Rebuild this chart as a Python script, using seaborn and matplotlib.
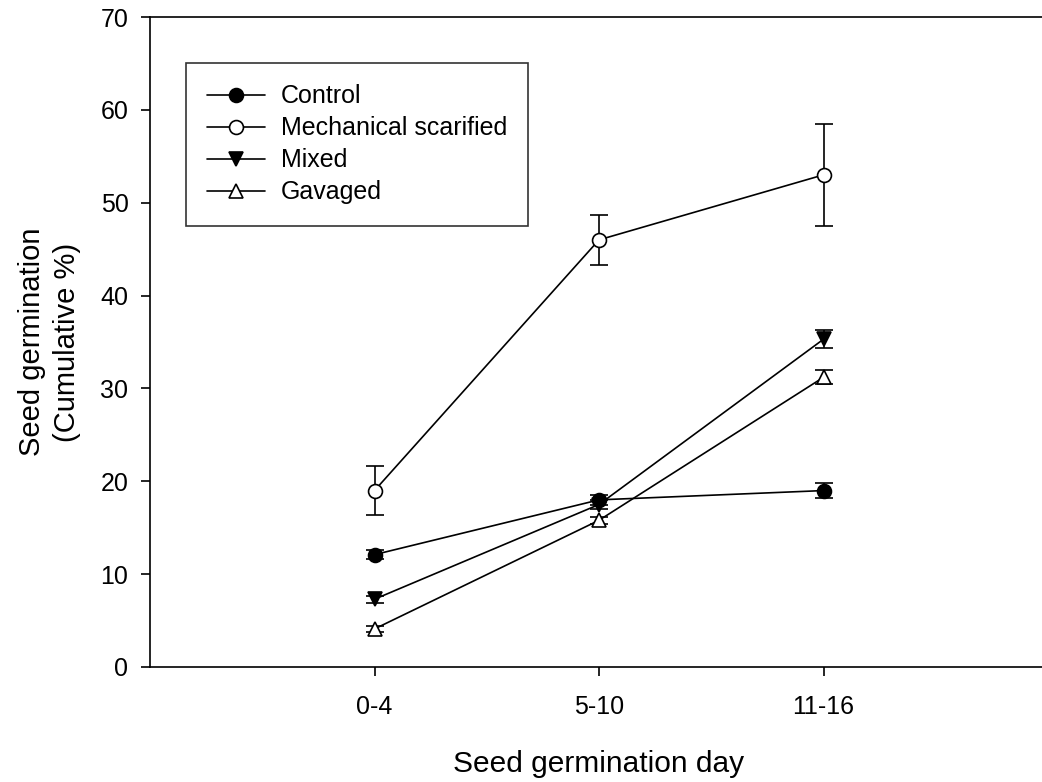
import matplotlib
matplotlib.use("Agg")
import matplotlib.pyplot as plt
import seaborn as sns
import pandas as pd

categories = ["0-4", "5-10", "11-16"]
series_names = ["Control", "Mechanical scarified", "Mixed", "Gavaged"]
control = [12.1, 18.0, 19.0]
control_err = [0.5, 0.5, 0.8]
mechanical = [19.0, 46.0, 53.0]
mechanical_err = [2.6, 2.7, 5.5]
mixed = [7.3, 17.5, 35.3]
mixed_err = [0.4, 0.5, 0.95]
gavaged = [4.1, 15.8, 31.2]
gavaged_err = [0.3, 0.4, 0.75]
yticks = [0, 10, 20, 30, 40, 50, 60, 70]

sns.set_theme(style="white")
plt.rcParams["font.family"] = ["Liberation Sans", "DejaVu Sans"]

fig = plt.figure(figsize=(10.42, 7.82), dpi=100)
ax = fig.add_axes([150/1042, 115/782, 898/1042, 650/782])

values = [control, mechanical, mixed, gavaged]
errs = [control_err, mechanical_err, mixed_err, gavaged_err]
markers = ["o", "o", "v", "^"]
faces = ["black", "white", "black", "white"]
xs = list(range(len(categories)))

for name, v, e, m, fc in zip(series_names, values, errs, markers, faces):
    df = pd.DataFrame({"x": xs, "y": v})
    ax.errorbar(xs, v, yerr=e, fmt="none", ecolor="black", elinewidth=1.2,
                capsize=6.5, capthick=1.2, zorder=2)
    sns.lineplot(data=df, x="x", y="y", ax=ax, color="black", linewidth=1.2,
                 marker=m, markersize=10, markerfacecolor=fc,
                 markeredgecolor="black", markeredgewidth=1.2,
                 label=name, zorder=3)

ax.set_xlim(-1, 3)
ax.set_ylim(0, 70)
ax.set_xticks(xs)
ax.set_xticklabels(categories)
ax.set_yticks(yticks)
ax.tick_params(axis="both", which="major", direction="out", length=6.5,
               width=1.2, color="black", labelsize=18, labelcolor="black",
               left=True, bottom=True)
ax.tick_params(axis="x", pad=14)
ax.tick_params(axis="y", pad=9)
for s in ["left", "bottom", "top", "right"]:
    ax.spines[s].set_color("black")
    ax.spines[s].set_linewidth(1.2)

ax.set_xlabel("Seed germination day", fontsize=21.5, color="black", labelpad=22)
ax.set_ylabel("Seed germination\n(Cumulative %)", fontsize=21, color="black",
              labelpad=14, linespacing=1.3)

leg = ax.legend(loc="upper left", bbox_to_anchor=(36/898, 1 - 46/650),
                frameon=True, fancybox=False, edgecolor="black",
                fontsize=18, handlelength=2.3, handletextpad=0.64,
                labelspacing=0.32, borderpad=0.85, borderaxespad=0,
                labelcolor="black")
leg.get_frame().set_linewidth(1.2)

fig.savefig("out.png", dpi=100)
